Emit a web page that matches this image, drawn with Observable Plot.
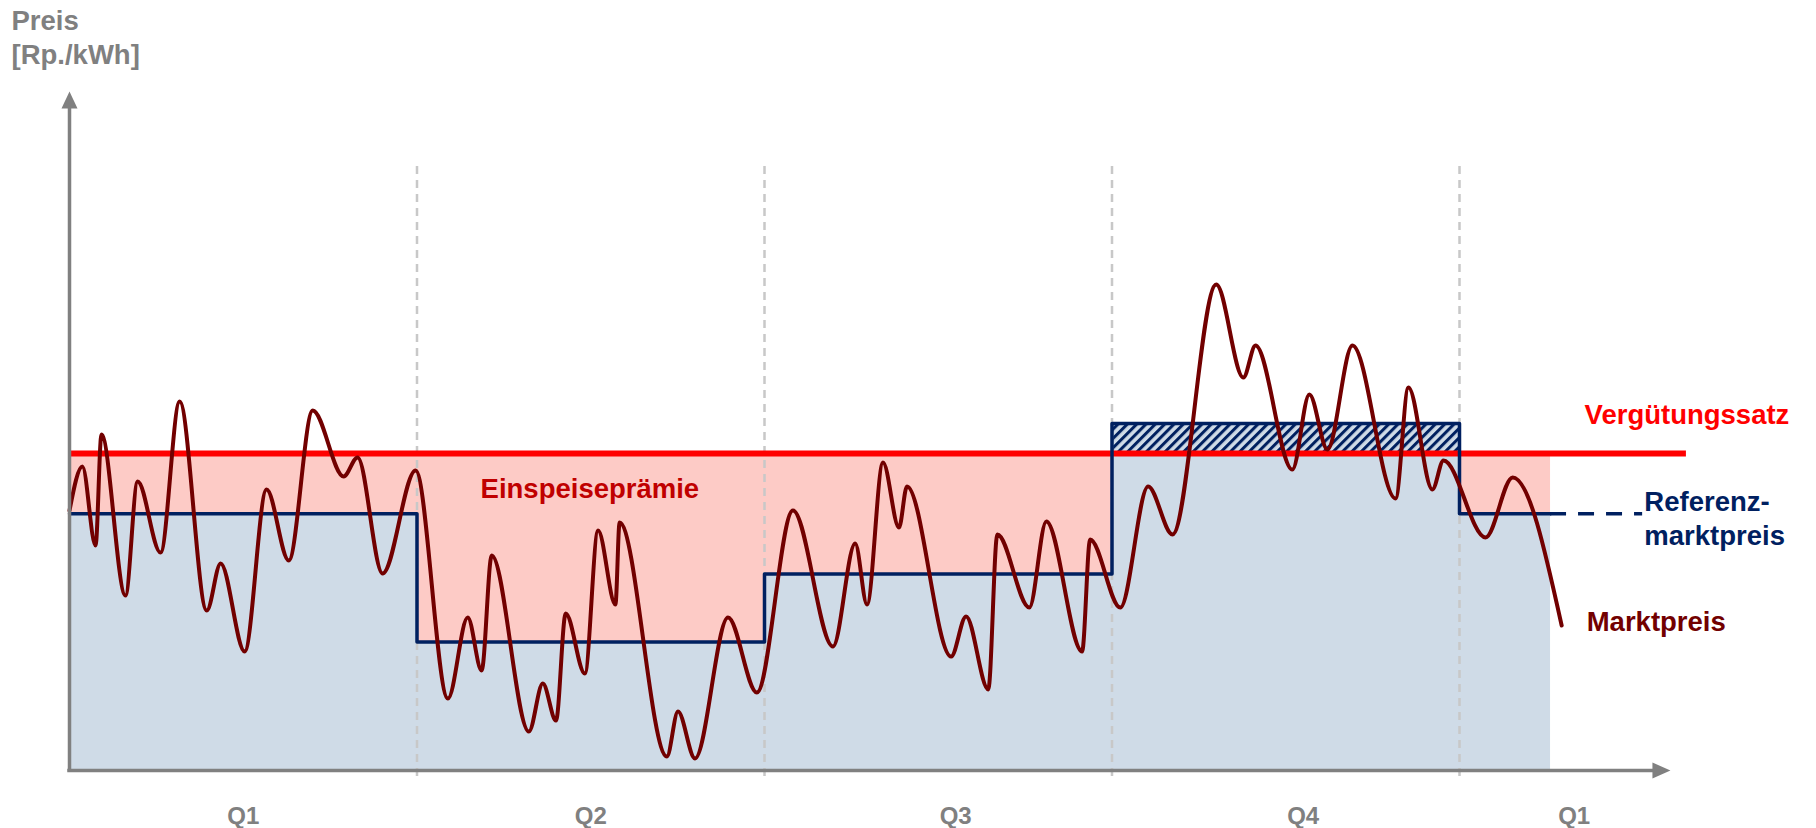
<!DOCTYPE html>
<html>
<head>
<meta charset="utf-8">
<script src="https://cdn.jsdelivr.net/npm/d3@7"></script>
<script src="https://cdn.jsdelivr.net/npm/@observablehq/plot@0.6"></script>
<style>
  html, body { margin: 0; padding: 0; background: #fff; }
  svg { display: block; }
</style>
</head>
<body>
<div id="chart"></div>
<script>
// ---------- data ----------
const quarterLabels = ["Q1", "Q2", "Q3", "Q4", "Q1"];
const quarterLabelPos = [0.5, 1.5, 2.55, 3.55, 4.33];
const quarterBounds = [1, 2, 3, 4];

// Referenzmarktpreis per quarter (step)
const refStart = [0, 1, 2, 3, 4];
const refPrice = [16.2, 8.1, 12.4, 21.9, 16.2];

// Vergütungssatz (constant)
const verguetungssatz = 20;

// Marktpreis (turning points of the curve)
const marketX = [0, 0.037, 0.075, 0.092, 0.161, 0.196, 0.262, 0.317, 0.395, 0.435,
  0.504, 0.567, 0.631, 0.700, 0.789, 0.829, 0.901, 0.996, 1.089, 1.146,
  1.186, 1.215, 1.322, 1.362, 1.400, 1.428, 1.483, 1.521, 1.571, 1.583,
  1.719, 1.751, 1.800, 1.895, 1.978, 2.082, 2.197, 2.261, 2.295, 2.341,
  2.387, 2.410, 2.537, 2.580, 2.644, 2.670, 2.762, 2.811, 2.914, 2.937,
  3.024, 3.104, 3.174, 3.300, 3.378, 3.413, 3.519, 3.568, 3.620, 3.692,
  3.816, 3.853, 3.922, 3.954, 4.075, 4.153, 4.294];
const marketY = [16.40, 19.18, 14.20, 21.20, 11.04, 18.23, 13.75, 23.28, 10.09, 13.06,
  7.51, 17.73, 13.25, 22.71, 18.55, 19.75, 12.43, 18.93, 4.54, 9.65,
  6.31, 13.56, 2.46, 5.49, 3.15, 9.91, 6.12, 15.14, 10.47, 15.65,
  0.88, 3.72, 0.76, 9.65, 4.92, 16.40, 7.82, 14.32, 10.47, 19.43,
  15.33, 17.92, 7.19, 9.72, 5.11, 14.89, 10.28, 15.71, 7.51, 14.57,
  10.28, 17.92, 14.89, 30.66, 24.79, 26.81, 18.99, 23.72, 20.25, 26.81,
  17.16, 24.16, 17.73, 19.56, 14.70, 18.49, 9.15];

// extents (in x = quarters)
const fillEnd = 4.262;
const refDashEnd = 4.527;
const rateEnd = 4.653;
const xAxisEnd = 4.607;
const yAxisTop = 42.84;
const gridTop = 38.1;

// ---------- tables built from arrays ----------
const refTable = refStart.map((x, i) => ({x, ref: refPrice[i]}))
  .concat([{x: fillEnd, ref: refPrice[refPrice.length - 1]}]);
const market = marketX.map((x, i) => ({x, y: marketY[i]}));
const hatchBox = [{x1: refStart[3], x2: refStart[4], y1: verguetungssatz, y2: refPrice[3]}];

// ---------- styles ----------
const FONT = "'Liberation Sans', Arial, Helvetica, sans-serif";
const GRAY = "#808080";
const NAVY = "#002060";
const RED = "#ff0000";
const DARKRED = "#720000";
const PINK = "#fdcbc6";
const BLUE = "#cfdbe7";

const arrowUp = {draw(ctx) { ctx.moveTo(0, 0); ctx.lineTo(-8, 17); ctx.lineTo(8, 17); ctx.closePath(); }};
const arrowRight = {draw(ctx) { ctx.moveTo(0, 0); ctx.lineTo(-18, -8); ctx.lineTo(-18, 8); ctx.closePath(); }};

const txt = {textAnchor: "start", lineAnchor: "bottom", fontWeight: "bold", fontSize: 27.5, fontFamily: FONT};

const chart = Plot.plot({
  width: 1816,
  height: 828,
  margin: 0,
  x: {domain: [0, 4], range: [69, 1459], axis: null},
  y: {domain: [0, 20], range: [770, 453], axis: null},
  style: {fontFamily: FONT, background: "#fff", overflow: "visible"},
  marks: [
    // Einspeiseprämie area (between Referenzmarktpreis and Vergütungssatz)
    Plot.areaY(refTable, {x: "x", y1: "ref", y2: verguetungssatz, curve: "step-after", fill: PINK}),
    // area under Referenzmarktpreis
    Plot.areaY(refTable, {x: "x", y1: 0, y2: "ref", curve: "step-after", fill: BLUE}),
    // hatched excess in Q4
    Plot.rect(hatchBox, {x1: "x1", x2: "x2", y1: "y1", y2: "y2", fill: "url(#hatch)"}),
    // quarter separators
    Plot.ruleX(quarterBounds, {y1: -0.38, y2: gridTop, stroke: "#c8c8c8", strokeWidth: 2.5, strokeDasharray: "8,6"}),
    // Vergütungssatz
    Plot.ruleY([verguetungssatz], {x1: 0, x2: rateEnd, stroke: RED, strokeWidth: 6}),
    // Referenzmarktpreis
    Plot.line(refTable, {x: "x", y: "ref", curve: "step-after", stroke: NAVY, strokeWidth: 3.5}),
    Plot.ruleY([refPrice[refPrice.length - 1]], {x1: fillEnd, x2: refDashEnd, stroke: NAVY, strokeWidth: 3.5, strokeDasharray: "16,12"}),
    // Marktpreis
    Plot.line(market, {x: "x", y: "y", curve: "monotone-x", stroke: DARKRED, strokeWidth: 4, strokeLinejoin: "round"}),
    // axes with arrows
    Plot.ruleX([0], {y1: -0.1, y2: yAxisTop - 0.6, stroke: GRAY, strokeWidth: 3.5}),
    Plot.ruleY([0], {x1: -0.005, x2: xAxisEnd - 0.03, stroke: GRAY, strokeWidth: 3.5}),
    Plot.dot([0], {x: 0, y: yAxisTop, symbol: arrowUp, r: 8, fill: GRAY, stroke: "none"}),
    Plot.dot([0], {x: xAxisEnd, y: 0, symbol: arrowRight, r: 8, fill: GRAY, stroke: "none"}),
    // quarter labels
    Plot.text(quarterLabels, {x: (d, i) => quarterLabelPos[i], y: 0, dy: 53, text: d => d,
      textAnchor: "middle", lineAnchor: "bottom", fontWeight: "bold", fontSize: 24, fill: GRAY, fontFamily: FONT}),
    // axis title
    Plot.text(["Preis"], {...txt, frameAnchor: "top-left", dx: 11, dy: 29, text: d => d, fill: GRAY}),
    Plot.text(["[Rp./kWh]"], {...txt, frameAnchor: "top-left", dx: 11, dy: 63, text: d => d, fill: GRAY}),
    // annotations
    Plot.text(["Einspeiseprämie"], {...txt, x: 1.183, y: 17.22, text: d => d, fill: "#c00000"}),
    Plot.text(["Vergütungssatz"], {...txt, x: 4.36, y: 21.89, text: d => d, fill: RED}),
    Plot.text(["Referenz-"], {...txt, x: 4.532, y: 16.40, text: d => d, fill: NAVY}),
    Plot.text(["marktpreis"], {...txt, x: 4.532, y: 14.20, text: d => d, fill: NAVY}),
    Plot.text(["Marktpreis"], {...txt, x: 4.366, y: 8.77, text: d => d, fill: DARKRED})
  ]
});

// hatch pattern definition
const defs = d3.select(chart).insert("defs", ":first-child");
const pat = defs.append("pattern")
  .attr("id", "hatch")
  .attr("patternUnits", "userSpaceOnUse")
  .attr("width", 6.6).attr("height", 6.6)
  .attr("patternTransform", "rotate(45)");
pat.append("rect").attr("width", 6.6).attr("height", 6.6).attr("fill", BLUE);
pat.append("rect").attr("width", 3).attr("height", 6.6).attr("fill", NAVY);

document.getElementById("chart").appendChild(chart);
</script>
</body>
</html>
